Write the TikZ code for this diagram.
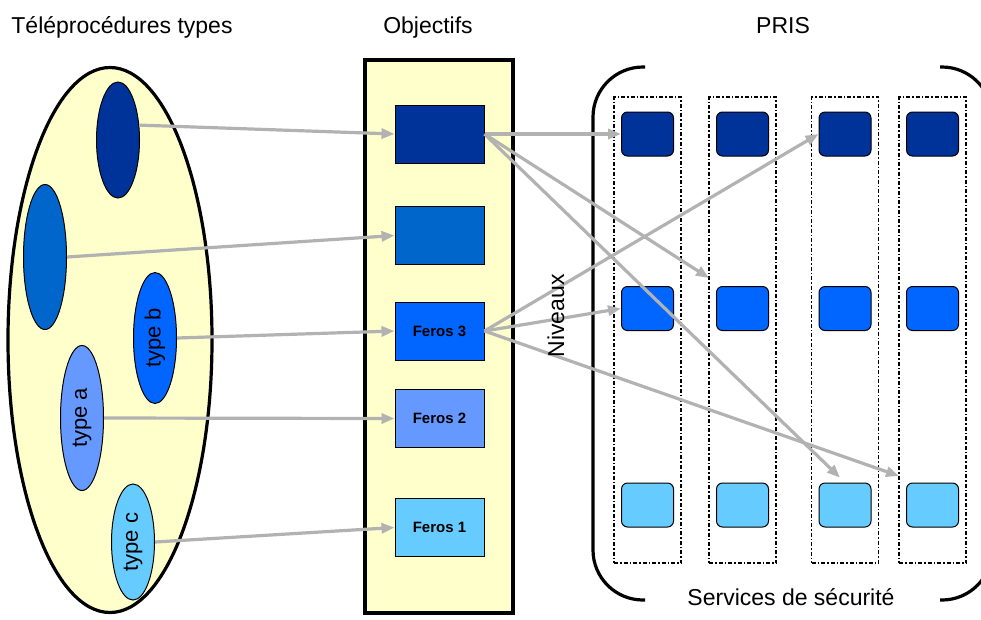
\documentclass[tikz,border=0pt]{standalone}
\usepackage{fontspec}
\setmainfont{Liberation Sans}
\usetikzlibrary{shapes.geometric,arrows.meta,positioning,calc}

\definecolor{paleyellow}{HTML}{FFFFCC}
\definecolor{navy}{HTML}{003399}
\definecolor{midblue}{HTML}{0066CC}
\definecolor{brightblue}{HTML}{0066FF}
\definecolor{softblue}{HTML}{6699FF}
\definecolor{skyblue}{HTML}{66CCFF}
\definecolor{linkgray}{HTML}{B2B2B2}

\tikzset{
  heading/.style={font=\fontsize{23}{27}\selectfont, inner sep=0pt},
  tele/.style={draw=black, line width=1pt, ellipse, minimum width=43pt, inner sep=0pt,
    font=\fontsize{22}{26}\selectfont},
  goal/.style={draw=black, line width=1pt, minimum width=89pt, minimum height=58pt,
    inner sep=0pt, font=\bfseries\fontsize{15}{18}\selectfont},
  service/.style={draw=black, line width=1pt, rounded corners=6pt, minimum width=52pt,
    minimum height=44pt, inner sep=0pt},
  column/.style={draw=black, line width=1.9pt, dash pattern=on 4pt off 2pt on 1.5pt off 2pt,
    minimum width=67pt, minimum height=466pt, inner sep=0pt},
  link/.style={draw=linkgray, line width=3.2pt, -{Triangle[length=13pt,width=10pt]}},
}

\begin{document}
\begin{tikzpicture}[x=1pt, y=-1pt]
\useasboundingbox (0,0) rectangle (981,619);

% headings
\node[heading, anchor=base] (h-tele) at (122,33) {Téléprocédures types};
\node[heading, anchor=base] (h-obj) at (428,33) {Objectifs};
\node[heading, anchor=base] (h-pris) at (783,33) {PRIS};

% teleprocedures types
\node[draw=black, line width=3.2pt, ellipse, fill=paleyellow, minimum width=204pt,
  minimum height=545pt] (pool) at (110,340) {};
\node[tele, fill=navy, minimum height=116pt] (tp-1) at (118,140) {};
\node[tele, fill=midblue, minimum height=145pt] (tp-2) at (45,257) {};
\node[tele, fill=brightblue, minimum height=131pt] (tp-b) at (155,338) {\rotatebox{90}{type b}};
\node[tele, fill=softblue, minimum height=145pt] (tp-a) at (82,418) {\rotatebox{90}{type a}};
\node[tele, fill=skyblue, minimum height=116pt] (tp-c) at (133,542) {\rotatebox{90}{type c}};

% objectifs
\node[draw=black, line width=3.2pt, fill=paleyellow, minimum width=148pt,
  minimum height=553pt, inner sep=0pt] (obj) at (439,336.5) {};
\foreach \c/\y/\t [count=\i] in {navy/134/{}, midblue/235.5/{}, brightblue/331/Feros 3,
    softblue/418.5/Feros 2, skyblue/527.5/Feros 1}
  \node[goal, fill=\c] (goal-\i) at (439.5,\y) {\t};

% PRIS
\draw[line width=3.2pt, rounded corners=50pt] (645,67) -- (593,67) -- (593,600) -- (645,600);
\draw[line width=3.2pt, rounded corners=50pt] (940,67) -- (992,67) -- (992,600) -- (940,600);

\foreach \x [count=\j] in {647.5,742.5,845,932.5} {
  \node[column] (col-\j) at (\x,330) {};
  \foreach \c/\y [count=\r] in {navy/134, brightblue/308.5, skyblue/505}
    \node[service, fill=\c] (srv-\r-\j) at (\x,\y) {};
}

% links
\coordinate (hit-mid) at (709,278);
\coordinate (hit-low) at (899,476);

\draw[link] (tp-1.35) -- (goal-1.west);
\draw[link] (tp-2.east) -- (goal-2.west);
\draw[link] (tp-b.east) -- (goal-3.west);
\draw[link] (tp-a.east) -- (goal-4.west);
\draw[link] (tp-c.east) -- (goal-5.west);

\draw[link] (goal-1.east) -- (srv-1-1.west);
\draw[link] (goal-1.east) -- (hit-mid);
\draw[link, shorten >=7pt] (goal-1.east) -- (srv-3-3.north);
\draw[link] (goal-3.east) -- (srv-1-3.west);
\draw[link] (goal-3.east) -- (srv-2-1.west);
\draw[link] (goal-3.east) -- (hit-low);

\node[heading, rotate=90] (niveaux) at (556,316) {Niveaux};
\node[heading] (services) at (791,597) {Services de sécurité};

\end{tikzpicture}
\end{document}
